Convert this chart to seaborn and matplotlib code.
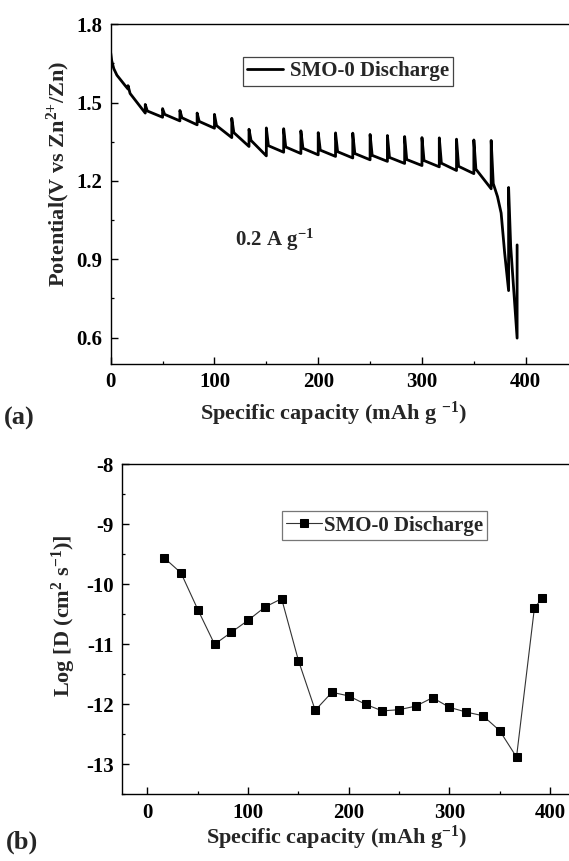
import matplotlib
matplotlib.use("Agg")
import matplotlib.pyplot as plt
from matplotlib.ticker import MultipleLocator
import seaborn as sns
import pandas as pd

# ---------------- (a) GITT discharge profile ----------------
# initial discharge segment before the first relaxation
head_cap = [0.0, 1.0, 3.0, 6.0, 10.0, 14.0, 16.7]
head_volt = [1.690, 1.660, 1.630, 1.605, 1.585, 1.565, 1.552]

# capacity at which each current pulse ends and the cell relaxes
pulse_cap = [16.7, 33.3, 50.0, 66.7, 83.3, 100.0, 116.7, 133.3, 150.0, 166.7,
             183.3, 200.0, 216.7, 233.3, 250.0, 266.7, 283.3, 300.0, 316.7,
             333.3, 350.0, 366.7, 383.5, 391.7]
# voltage at the end of each pulse, after relaxation, and when current resumes
volt_end = [1.552, 1.460, 1.444, 1.430, 1.415, 1.402, 1.366, 1.332, 1.296, 1.310,
            1.305, 1.300, 1.294, 1.288, 1.281, 1.275, 1.267, 1.259, 1.254,
            1.240, 1.228, 1.170, 0.780, 0.598]
volt_relax = [1.565, 1.493, 1.477, 1.470, 1.460, 1.455, 1.440, 1.398, 1.403, 1.400,
              1.392, 1.385, 1.384, 1.383, 1.378, 1.374, 1.370, 1.366, 1.365,
              1.360, 1.357, 1.355, 1.175, 0.955]
volt_resume = [1.535, 1.468, 1.455, 1.442, 1.428, 1.412, 1.385, 1.355, 1.335, 1.330,
               1.325, 1.318, 1.312, 1.305, 1.298, 1.290, 1.282, 1.278, 1.268,
               1.256, 1.245, 1.190, 0.950]
# steep fall at the end of the plateau
drop_cap = [372.8, 376.3, 379.7]
drop_volt = [1.140, 1.077, 0.924]
drop_after = 21

# ---------------- (b) diffusion coefficient ----------------
cap_b = [16.7, 33.3, 50.0, 66.7, 83.3, 100.0, 116.7, 133.3, 150.0, 166.7,
         183.3, 200.0, 216.7, 233.3, 250.0, 266.7, 283.3, 300.0, 316.7,
         333.3, 350.0, 366.7, 384.5, 392.4]
log_d = [-9.56, -9.81, -10.42, -11.00, -10.80, -10.60, -10.38, -10.24, -11.27,
         -12.10, -11.80, -11.86, -12.00, -12.11, -12.09, -12.03, -11.89, -12.05,
         -12.13, -12.19, -12.44, -12.88, -10.39, -10.23]

label_name = "SMO-0 Discharge"

# assemble the GITT trace in order
xs, ys = list(head_cap), list(head_volt)
for i, x0 in enumerate(pulse_cap):
    if i > 0:
        xs.append(x0)
        ys.append(volt_end[i])
    xs.append(x0)
    ys.append(volt_relax[i])
    if i < len(volt_resume):
        xs.append(x0 + 2.0)
        ys.append(volt_resume[i])
    if i == drop_after:
        xs += drop_cap
        ys += drop_volt
df_a = pd.DataFrame({"cap": xs, "volt": ys})
df_b = pd.DataFrame({"cap": cap_b, "logd": log_d})

sns.set_theme(style="ticks")
plt.rcParams.update({
    "font.family": ["Liberation Serif", "DejaVu Serif"],
    "font.weight": "bold",
    "axes.labelweight": "bold",
    "mathtext.default": "regular",
    "axes.unicode_minus": False,
    "axes.linewidth": 1.0,
    "axes.edgecolor": "black",
    "xtick.color": "black",
    "ytick.color": "black",
})

W, H = 569, 861
fig = plt.figure(figsize=(W / 100, H / 100), dpi=100)
fig.patch.set_facecolor("white")

ax1 = fig.add_axes([110.7 / W, (H - 363.7) / H, 466.9 / W, 339.4 / H])
ax2 = fig.add_axes([122.3 / W, 66.7 / H, 452.9 / W, 330.0 / H])

tick_fs = 15
label_fs = 16

# panel (a)
sns.lineplot(data=df_a, x="cap", y="volt", sort=False, estimator=None,
             color="black", linewidth=2.0, ax=ax1, label=label_name)
ax1.set_xlim(0, 450)
ax1.set_ylim(0.5, 1.8)
ax1.set_xticks([0, 100, 200, 300, 400])
ax1.set_yticks([0.6, 0.9, 1.2, 1.5, 1.8])
ax1.set_yticklabels(["0.6", "0.9", "1.2", "1.5", "1.8"])
ax1.xaxis.set_minor_locator(MultipleLocator(50))
ax1.yaxis.set_minor_locator(MultipleLocator(0.15))
ax1.set_xlabel("Specific capacity (mAh g $^{-1}$)", fontsize=label_fs, fontweight="bold")
ax1.set_ylabel("Potential(V vs Zn$^{2{+}}$/Zn)", fontsize=label_fs, fontweight="bold")
ax1.xaxis.set_label_coords(0.476, -0.105)
ax1.yaxis.set_label_coords(-0.082, 0.56)
ax1.text(120, 0.975, "0.2 A g$^{-1}$", fontsize=15, fontweight="bold",
         ha="left", va="center")
leg1 = ax1.legend(loc="upper left", bbox_to_anchor=(0.283, 0.903),
                  borderaxespad=0, frameon=True, fancybox=False,
                  edgecolor="#444444", framealpha=1, borderpad=0.2,
                  handlelength=1.75, handletextpad=0.3,
                  prop={"family": "Liberation Serif", "weight": "bold", "size": 15})
leg1.get_frame().set_linewidth(0.9)

# panel (b)
sns.lineplot(data=df_b, x="cap", y="logd", sort=False, estimator=None,
             color="#333333", linewidth=0.8, marker="s", markersize=6,
             markerfacecolor="black", markeredgecolor="black",
             ax=ax2, label=label_name)
ax2.set_xlim(-25, 425)
ax2.set_ylim(-13.5, -8)
ax2.set_xticks([0, 100, 200, 300, 400])
ax2.set_yticks([-13, -12, -11, -10, -9, -8])
ax2.xaxis.set_minor_locator(MultipleLocator(50))
ax2.yaxis.set_minor_locator(MultipleLocator(0.5))
ax2.set_xlabel("Specific capacity (mAh g$^{-1}$)", fontsize=label_fs, fontweight="bold")
ax2.set_ylabel("Log [D (cm$^{2}$ s$^{-1}$)]", fontsize=label_fs, fontweight="bold")
ax2.xaxis.set_label_coords(0.473, -0.09)
ax2.yaxis.set_label_coords(-0.098, 0.54)
leg2 = ax2.legend(loc="upper left", bbox_to_anchor=(0.3526, 0.857),
                  borderaxespad=0, frameon=True, fancybox=False,
                  edgecolor="#777777", framealpha=1, borderpad=0.2,
                  handlelength=1.7, handletextpad=0.1,
                  prop={"family": "Liberation Serif", "weight": "bold", "size": 15})
leg2.get_frame().set_linewidth(0.9)

for ax in (ax1, ax2):
    ax.set_facecolor("white")
    ax.tick_params(axis="both", which="major", direction="in", length=5,
                   width=1.0, labelsize=tick_fs, pad=6,
                   top=False, right=False)
    ax.tick_params(axis="both", which="minor", direction="in", length=2.5,
                   width=0.9, top=False, right=False)
    for lab in ax.get_xticklabels() + ax.get_yticklabels():
        lab.set_fontweight("bold")
    for s in ax.spines.values():
        s.set_visible(True)
        s.set_color("black")
        s.set_linewidth(1.0)

fig.text(4 / W, 1 - 418 / H, "(a)", fontsize=19, fontweight="bold",
         ha="left", va="center")
fig.text(6 / W, 1 - 842 / H, "(b)", fontsize=19, fontweight="bold",
         ha="left", va="center")

fig.savefig("out.png", dpi=100, facecolor="white")
